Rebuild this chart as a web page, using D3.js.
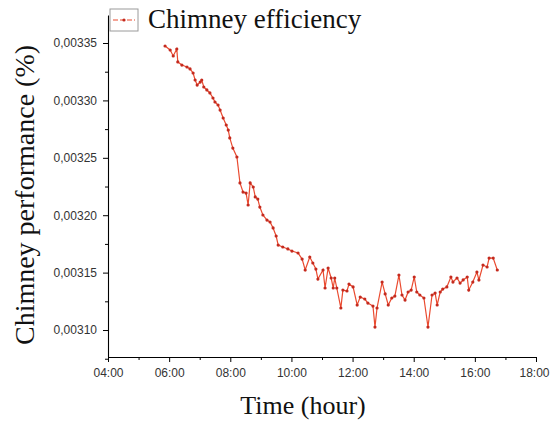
<!DOCTYPE html>
<html>
<head>
<meta charset="utf-8">
<script src="https://cdn.jsdelivr.net/npm/d3@7"></script>
<style>
  html, body { margin: 0; padding: 0; background: #fff; }
  svg { display: block; }
</style>
</head>
<body>
<svg id="chart" width="550" height="423"></svg>
<script>
// Chimney efficiency samples over the day
const times = [
  "05:52","06:02","06:08","06:15","06:17","06:25","06:35","06:41","06:47","06:51",
  "06:55","07:01","07:04","07:08","07:14","07:20","07:26","07:30","07:36","07:40",
  "07:46","07:52","07:56","07:59","08:05","08:13","08:19","08:25","08:31","08:35",
  "08:39","08:45","08:49","08:54","08:58","09:04","09:12","09:18","09:24","09:30",
  "09:34","09:43","09:53","10:01","10:13","10:21","10:27","10:36","10:42","10:48",
  "10:52","11:02","11:06","11:12","11:18","11:22","11:25","11:29","11:37","11:41",
  "11:49","11:53","12:01","12:09","12:15","12:24","12:30","12:40","12:44","12:48",
  "12:58","13:04","13:10","13:17","13:23","13:31","13:37","13:43","13:49","13:55",
  "14:01","14:06","14:12","14:20","14:28","14:36","14:42","14:46","14:52","14:57",
  "15:05","15:13","15:17","15:25","15:31","15:37","15:45","15:48","15:56","16:04",
  "16:08","16:16","16:24","16:28","16:36","16:44"
];
const efficiency = [
  0.0033474,0.0033439,0.0033387,0.0033448,0.0033335,0.0033308,0.0033291,0.0033274,0.0033239,0.0033178,
  0.0033134,0.0033160,0.0033178,0.0033117,0.0033091,0.0033065,0.0033021,0.0032986,0.0032960,0.0032916,
  0.0032847,0.0032786,0.0032742,0.0032673,0.0032585,0.0032507,0.0032281,0.0032202,0.0032193,0.0032089,
  0.0032281,0.0032246,0.0032159,0.0032141,0.0032071,0.0032002,0.0031958,0.0031941,0.0031889,0.0031819,
  0.0031740,0.0031723,0.0031706,0.0031688,0.0031671,0.0031618,0.0031523,0.0031636,0.0031584,0.0031531,
  0.0031444,0.0031523,0.0031366,0.0031540,0.0031453,0.0031366,0.0031453,0.0031366,0.0031192,0.0031348,
  0.0031340,0.0031401,0.0031375,0.0031218,0.0031287,0.0031270,0.0031235,0.0031209,0.0031026,0.0031192,
  0.0031418,0.0031314,0.0031218,0.0031279,0.0031296,0.0031479,0.0031305,0.0031261,0.0031331,0.0031348,
  0.0031462,0.0031331,0.0031305,0.0031279,0.0031026,0.0031305,0.0031322,0.0031218,0.0031331,0.0031357,
  0.0031375,0.0031462,0.0031418,0.0031453,0.0031409,0.0031436,0.0031462,0.0031348,0.0031418,0.0031505,
  0.0031436,0.0031566,0.0031549,0.0031627,0.0031627,0.0031523
];
const yTicks = [0.00310, 0.00315, 0.00320, 0.00325, 0.00330, 0.00335];
const xTickLabels = ["04:00","06:00","08:00","10:00","12:00","14:00","16:00","18:00"];
const seriesName = "Chimney efficiency";

const parse = d3.timeParse("%H:%M");
const fmtTime = d3.timeFormat("%H:%M");
const data = times.map((t, i) => ({ t: parse(t), v: efficiency[i] }));

const svg = d3.select("#chart");
const plotLeft = 108, plotRight = 536, plotTop = 15, plotBottom = 357;

const x = d3.scaleTime()
  .domain([parse("04:00"), parse("18:00")])
  .range([plotLeft, plotRight]);
const y = d3.scaleLinear()
  .domain([0.0030765, 0.0033744])
  .range([plotBottom, plotTop]);

const fmtY = v => v.toFixed(5).replace(".", ",");
const tickFont = "Liberation Sans, Arial, sans-serif";
const serif = "Liberation Serif, 'Times New Roman', serif";

// minor ticks
const yMinor = d3.range(0.003075, 0.00337, 0.00005).map(v => +v.toFixed(6));
svg.append("g")
  .attr("transform", `translate(${plotLeft},0)`)
  .call(d3.axisLeft(y).tickValues(yMinor).tickSize(3).tickFormat(""))
  .call(g => g.select(".domain").remove())
  .call(g => g.selectAll("line").attr("stroke", "#000"));
const xMinor = d3.range(5, 18, 2).map(h => parse((h < 10 ? "0" : "") + h + ":00"));
svg.append("g")
  .attr("transform", `translate(0,${plotBottom})`)
  .call(d3.axisBottom(x).tickValues(xMinor).tickSize(3).tickFormat(""))
  .call(g => g.select(".domain").remove())
  .call(g => g.selectAll("line").attr("stroke", "#000"));

// y axis
const yAxis = svg.append("g")
  .attr("transform", `translate(${plotLeft},0)`)
  .call(d3.axisLeft(y).tickValues(yTicks).tickSize(5).tickPadding(6).tickFormat(fmtY).tickSizeOuter(0));
yAxis.select(".domain").attr("stroke", "#000").attr("stroke-width", 1.1);
yAxis.selectAll("line").attr("stroke", "#000");
yAxis.selectAll("text").attr("font-family", tickFont).attr("font-size", 12).attr("fill", "#333");

// x axis
const xAxis = svg.append("g")
  .attr("transform", `translate(0,${plotBottom})`)
  .call(d3.axisBottom(x).tickValues(xTickLabels.map(parse)).tickSize(5).tickPadding(6)
    .tickFormat(fmtTime).tickSizeOuter(0));
xAxis.select(".domain").attr("stroke", "#000").attr("stroke-width", 1.1);
xAxis.selectAll("line").attr("stroke", "#000");
xAxis.selectAll("text").attr("font-family", tickFont).attr("font-size", 12).attr("fill", "#333");
// keep the last label inside the canvas edge
xAxis.selectAll(".tick:last-of-type text").attr("dx", -2);

// series line and markers
const line = d3.line().x(d => x(d.t)).y(d => y(d.v));
svg.append("path")
  .datum(data)
  .attr("d", line)
  .attr("fill", "none")
  .attr("stroke", "#ea4a2f")
  .attr("stroke-width", 1.2);
svg.append("g").selectAll("circle")
  .data(data)
  .join("circle")
  .attr("cx", d => x(d.t))
  .attr("cy", d => y(d.v))
  .attr("r", 1.6)
  .attr("fill", "#c42a1e");

// legend
const lg = svg.append("g");
lg.append("rect")
  .attr("x", 110).attr("y", 9).attr("width", 28).attr("height", 22)
  .attr("fill", "#fff").attr("stroke", "#9a9a9a").attr("stroke-width", 1);
lg.append("line")
  .attr("x1", 113).attr("x2", 135).attr("y1", 20).attr("y2", 20)
  .attr("stroke", "#ea4a2f").attr("stroke-width", 1.2).attr("stroke-dasharray", "5,2");
lg.append("circle").attr("cx", 124).attr("cy", 20).attr("r", 1.6).attr("fill", "#c42a1e");
lg.append("text")
  .attr("x", 148).attr("y", 28)
  .attr("font-family", serif).attr("font-size", 27).attr("fill", "#111")
  .text(seriesName);

// axis titles
svg.append("text")
  .attr("x", (plotLeft + plotRight) / 2 - 19).attr("y", 414)
  .attr("text-anchor", "middle")
  .attr("font-family", serif).attr("font-size", 26).attr("fill", "#111")
  .text("Time (hour)");
svg.append("text")
  .attr("transform", "translate(34,195) rotate(-90)")
  .attr("text-anchor", "middle")
  .attr("font-family", serif).attr("font-size", 28).attr("fill", "#111")
  .text("Chimney performance (%)");
</script>
</body>
</html>
